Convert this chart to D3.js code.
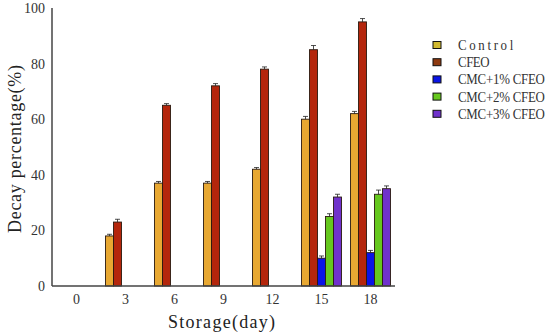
<!DOCTYPE html>
<html><head><meta charset="utf-8">
<script src="https://cdn.jsdelivr.net/npm/d3@7"></script>
<style>body{margin:0;background:#fff}svg{display:block}</style>
</head><body>
<svg id="c" width="550" height="335"></svg>
<script>
const days = ["0","3","6","9","12","15","18"];
const seriesNames = ["Control","CFEO","CMC+1% CFEO","CMC+2% CFEO","CMC+3% CFEO"];
const control = [0,18,37,37,42,60,62];
const cfeo    = [0,23,65,72,78,85,95];
const cmc1    = [0,0,0,0,0,10,12];
const cmc2    = [0,0,0,0,0,25,33];
const cmc3    = [0,0,0,0,0,32,35];
const errControl = [0,0.6,0.6,0.6,0.6,1,0.8];
const errCfeo    = [0,1,0.6,0.8,0.8,1.5,1.2];
const errCmc1    = [0,0,0,0,0,0.8,0.8];
const errCmc2    = [0,0,0,0,0,1,1.5];
const errCmc3    = [0,0,0,0,0,1,1];
const yTicks = [0,20,40,60,80,100];
const colors = ["#E8A832","#B4260C","#0A14E6","#66C81E","#7032CC"];
const legendColors = ["#D2BA30","#8E3A10","#0A14E6","#66C81E","#7032CC"];

const values = [control,cfeo,cmc1,cmc2,cmc3];
const errs = [errControl,errCfeo,errCmc1,errCmc2,errCmc3];

const svg = d3.select("#c");
const x0 = d3.scaleBand().domain(days).range([52,395]).padding(0);
const x1 = d3.scaleBand().domain(seriesNames).range([0,40]);
const y = d3.scaleLinear().domain([0,100]).range([286,8]);
const serif = "'Liberation Serif','DejaVu Serif',serif";

// bars
days.forEach((d,i)=>{
  const g = svg.append("g").attr("transform",`translate(${x0(d)+x0.bandwidth()/2-20},0)`);
  seriesNames.forEach((s,j)=>{
    const v = values[j][i];
    if(v<=0) return;
    g.append("rect").attr("x",x1(s)).attr("width",x1.bandwidth())
      .attr("y",y(v)).attr("height",y(0)-y(v))
      .attr("fill",colors[j]).attr("stroke","#2a1a10").attr("stroke-width",0.9);
    const e = errs[j][i];
    const cx = x1(s)+x1.bandwidth()/2;
    g.append("line").attr("x1",cx).attr("x2",cx).attr("y1",y(v+e)).attr("y2",y(v))
      .attr("stroke","#222").attr("stroke-width",0.8);
    g.append("line").attr("x1",cx-2.5).attr("x2",cx+2.5).attr("y1",y(v+e)).attr("y2",y(v+e))
      .attr("stroke","#222").attr("stroke-width",0.8);
  });
});

// axes
const yAxis = d3.axisLeft(y).tickValues(yTicks).tickSize(0).tickPadding(7);
const gy = svg.append("g").attr("transform","translate(52,0)").call(yAxis);
gy.select(".domain").attr("stroke","#444").attr("stroke-width",1.5).attr("d","M0,286V8");
gy.selectAll("text").attr("font-family",serif).attr("font-size",14).attr("fill","#333");

const xAxis = d3.axisBottom(x0).tickSize(0).tickPadding(8);
const gx = svg.append("g").attr("transform","translate(0,286)").call(xAxis);
gx.select(".domain").attr("stroke","#444").attr("stroke-width",1.5).attr("d","M52,0H395");
gx.selectAll("text").attr("font-family",serif).attr("font-size",14).attr("fill","#333");

// axis titles
svg.append("text").attr("x",168).attr("y",328).attr("font-family",serif).attr("font-size",18)
  .attr("fill","#222").attr("textLength",107).attr("lengthAdjust","spacing").text("Storage(day)");
svg.append("text").attr("transform","translate(21,149) rotate(-90)").attr("text-anchor","middle")
  .attr("font-family",serif).attr("font-size",18).attr("fill","#222")
  .attr("textLength",168).attr("lengthAdjust","spacing").text("Decay percentage(%)");

// legend
const lg = svg.append("g");
seriesNames.forEach((s,j)=>{
  const yy = 45 + j*17.2;
  lg.append("rect").attr("x",433).attr("y",yy-3.5).attr("width",8).attr("height",7)
    .attr("fill",legendColors[j]).attr("stroke","#111").attr("stroke-width",1);
  lg.append("text").attr("transform",`translate(458,${yy+5}) scale(0.86,1)`)
    .attr("font-family",serif).attr("font-size",15).attr("fill","#333")
    .attr("textLength",(s.length*7.9)/0.86).attr("lengthAdjust","spacing").text(s);
});
</script>
</body></html>
